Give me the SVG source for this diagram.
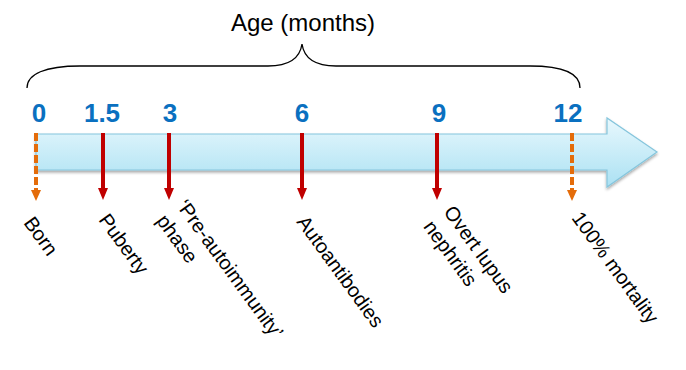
<svg xmlns="http://www.w3.org/2000/svg" width="686" height="370" viewBox="0 0 686 370">
<style>
text{font-family:"Liberation Sans",Arial,sans-serif;}
.num{font-size:26px;font-weight:bold;fill:#0a70c0;text-anchor:middle;}
.lbl{font-size:20px;fill:#000;}
.red{stroke:#c00000;stroke-width:4;fill:none;}
.org{stroke:#e46c0a;stroke-width:4;fill:none;stroke-dasharray:8 3;}
</style>
<defs>
<linearGradient id="g" x1="0" y1="0" x2="0" y2="1">
<stop offset="0" stop-color="#e8f8fd"/>
<stop offset="1" stop-color="#abe1f3"/>
</linearGradient>
<filter id="sh" x="-5%" y="-20%" width="110%" height="150%">
<feGaussianBlur in="SourceAlpha" stdDeviation="1.5"/>
<feOffset dy="2" result="b"/>
<feComponentTransfer><feFuncA type="linear" slope="0.35"/></feComponentTransfer>
<feMerge><feMergeNode/><feMergeNode in="SourceGraphic"/></feMerge>
</filter>
</defs>
<g id="title">
<text x="303" y="31" font-size="24" text-anchor="middle">Age (months)</text>
<path d="M27,88 C27,74 45,66 80,66 L268,66 C290,66 300,58 302,44 C304,58 314,66 336,66 L530,66 C565,66 580,74 580,88" fill="none" stroke="#000" stroke-width="1.3"/>
</g>
<g id="timeline">
<path d="M36,134 L607,134 L607,118 L657,152 L607,187 L607,170 L36,170 Z" fill="url(#g)" stroke="#86c6dd" stroke-width="1.2" filter="url(#sh)"/>
</g>
<g id="numbers">
<text class="num" x="39" y="122">0</text>
<text class="num" x="102" y="122">1.5</text>
<text class="num" x="170" y="122">3</text>
<text class="num" x="302" y="122">6</text>
<text class="num" x="439" y="122">9</text>
<text class="num" x="568" y="122">12</text>
</g>
<g id="connectors">
<line class="org" x1="36" y1="133" x2="36" y2="190"/>
<path d="M31,190 L41,190 L36,201 Z" fill="#e46c0a"/>
<line class="red" x1="103" y1="133" x2="103" y2="189"/>
<path d="M98,188 L108,188 L103,200 Z" fill="#c00000"/>
<line class="red" x1="169" y1="133" x2="169" y2="189"/>
<path d="M164,188 L174,188 L169,200 Z" fill="#c00000"/>
<line class="red" x1="302" y1="133" x2="302" y2="189"/>
<path d="M297,188 L307,188 L302,200 Z" fill="#c00000"/>
<line class="red" x1="437" y1="133" x2="437" y2="189"/>
<path d="M432,188 L442,188 L437,200 Z" fill="#c00000"/>
<line class="org" x1="572" y1="133" x2="572" y2="190"/>
<path d="M567,190 L577,190 L572,201 Z" fill="#e46c0a"/>
</g>
<g id="label-born"><text class="lbl" transform="translate(23,223) rotate(54)">Born</text></g>
<g id="label-puberty"><text class="lbl" transform="translate(98,220) rotate(54)">Puberty</text></g>
<g id="label-pre"><text class="lbl" transform="translate(176,206) rotate(54)"><tspan x="0" y="0">‘Pre-autoimmunity’</tspan><tspan x="0" y="25">phase</tspan></text></g>
<g id="label-auto"><text class="lbl" transform="translate(296,222) rotate(54)">Autoantibodies</text></g>
<g id="label-overt"><text class="lbl" transform="translate(443,212) rotate(54)"><tspan x="0" y="0">Overt lupus</tspan><tspan x="0" y="25">nephritis</tspan></text></g>
<g id="label-mort"><text class="lbl" transform="translate(571,218) rotate(54)">100% mortality</text></g>
</svg>
